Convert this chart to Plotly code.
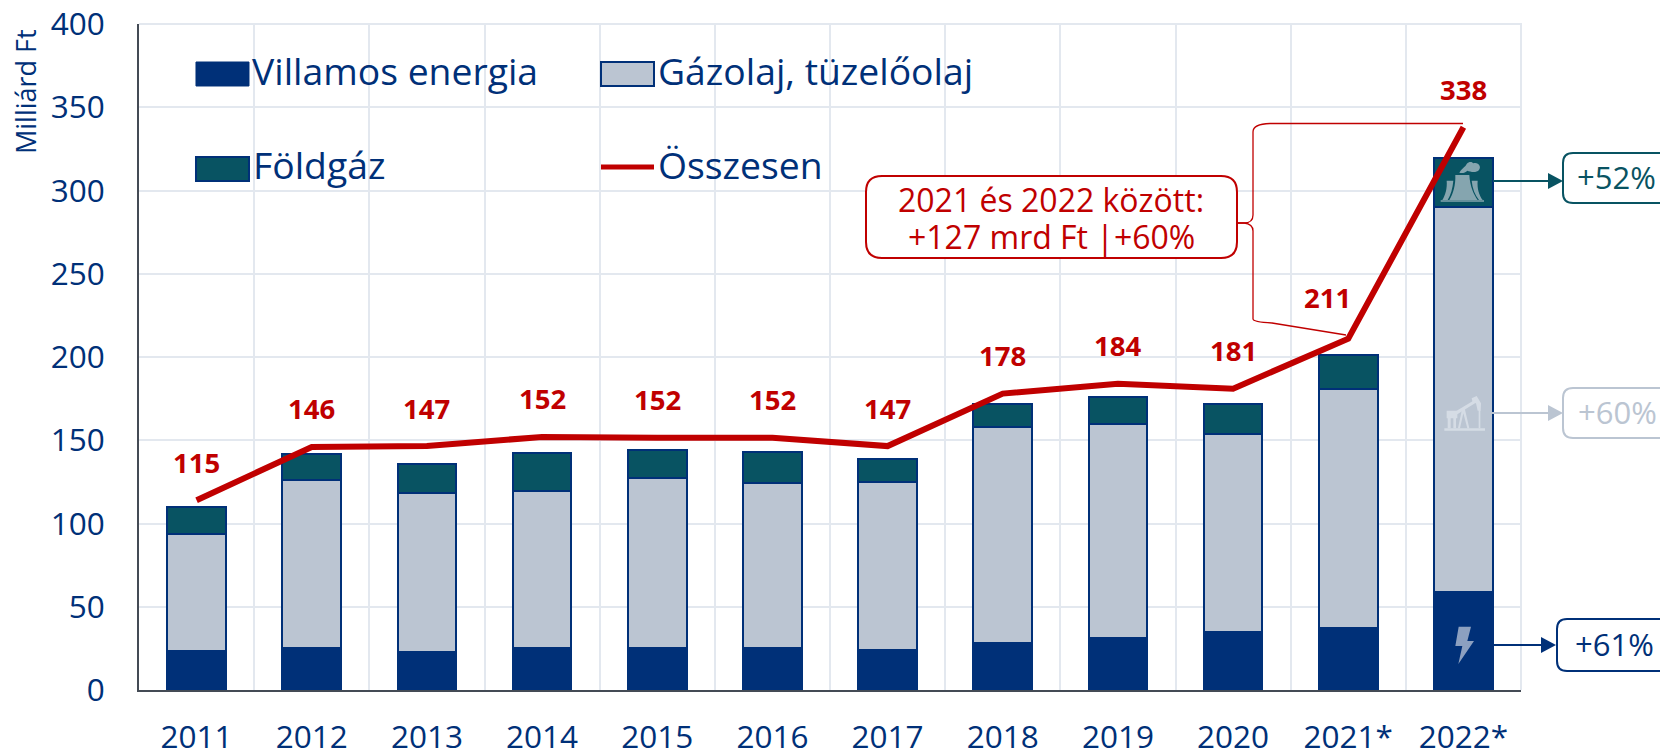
import plotly.graph_objects as go

years = ["2011","2012","2013","2014","2015","2016","2017","2018","2019","2020","2021*","2022*"]
villamos = [23.4,25,22.7,25.5,25.5,25,24,28,31,35,37,59]
gazolaj = [70.1,101,95.8,94,102,99.5,101,130,129,119,144,231]
foldgaz = [16.5,15.5,17.2,23,16.5,18.5,14,13.5,16,17.5,20,29.5]
osszesen = [114,146,146.5,152,151.5,151.5,146.5,178,184,181,211,338]
total_labels = ["115","146","147","152","152","152","147","178","184","181","211","338"]

NAVY = "#003078"
OIL = "#BBC5D2"
TEAL = "#085362"
RED = "#C00000"
GRID = "#E3E8EF"
FONT = "Open Sans"

L, R, T, B = 139, 1521, 24, 690
def px(x): return (x - L) / (R - L)
def py(y): return (B - y) / (B - T)
def P(cmds):
    out = []
    for c in cmds:
        if isinstance(c, str):
            out.append(c)
        else:
            out.append(f"{px(c[0]):.5f},{py(c[1]):.5f}")
    return " ".join(out)

def rbox(x0, y0, x1, y1, r=10):
    return P(["M",(x0+r,y0),"L",(x1-r,y0),"Q",(x1,y0),(x1,y0+r),"L",(x1,y1-r),"Q",(x1,y1),(x1-r,y1),
              "L",(x0+r,y1),"Q",(x0,y1),(x0,y1-r),"L",(x0,y0+r),"Q",(x0,y0),(x0+r,y0),"Z"])

fig = go.Figure()
for name, vals, col in [("Villamos energia", villamos, NAVY), ("Gázolaj, tüzelőolaj", gazolaj, OIL), ("Földgáz", foldgaz, TEAL)]:
    fig.add_bar(x=years, y=vals, name=name, marker=dict(color=col, line=dict(color=NAVY, width=2)), showlegend=False)
fig.add_scatter(x=years, y=osszesen, mode="lines", name="Összesen", line=dict(color=RED, width=6), showlegend=False, cliponaxis=False)

shapes, ann = [], []
def shape(path, fill=None, line=None, w=2, layer="above"):
    shapes.append(dict(type="path", xref="paper", yref="paper", path=path, fillcolor=fill or "rgba(0,0,0,0)",
                       line=dict(color=line or "rgba(0,0,0,0)", width=w if line else 0), layer=layer))
def text(x, y, s, size=30, color=NAVY, xanchor="left", bold=False, angle=0):
    ann.append(dict(xref="paper", yref="paper", x=px(x), y=py(y), text=f"<b>{s}</b>" if bold else s, showarrow=False,
                    xanchor=xanchor, yanchor="middle", textangle=angle, font=dict(family=FONT, size=size, color=color),
                    borderpad=0, borderwidth=0))

# outer grid lines the axes do not draw
shape(P(["M",(L,T),"L",(R,T),"L",(R,B)]), None, GRID, 2, "below")

# data labels (category index on x)
for i, (yr, v, lab) in enumerate(zip(years, osszesen, total_labels)):
    ann.append(dict(xref="x", yref="y", x=i, y=v, text=f"<b>{lab}</b>", showarrow=False, yanchor="middle", xanchor="center",
                    yshift=41 if yr == "2021*" else 38, xshift=-21 if yr == "2021*" else 0,
                    font=dict(family=FONT, size=27.5, color=RED)))

# legend
shape(P(["M",(196,62),"L",(249,62),"L",(249,86),"L",(196,86),"Z"]), NAVY, NAVY, 1)
shape(P(["M",(196,157),"L",(249,157),"L",(249,181),"L",(196,181),"Z"]), TEAL, NAVY, 2)
shape(P(["M",(601,62),"L",(654,62),"L",(654,86),"L",(601,86),"Z"]), OIL, NAVY, 2)
shape(P(["M",(601,167),"L",(654,167)]), None, RED, 5)
text(252, 70, "Villamos energia", 37.3)
text(253, 165, "Földgáz", 37.3)
text(658, 70, "Gázolaj, tüzelőolaj", 37.3)
text(658, 165, "Összesen", 37.3)

# y title
text(25, 92, "Milliárd Ft", 27, angle=-90, xanchor="center")

# red bracket + callout
shape(P(["M",(1237,223),"L",(1244,223),"Q",(1253,223),(1253,215),"L",(1253,132),"Q",(1253,124),(1270,123.5),"L",(1463,123.5)]), None, RED, 1.3)
shape(P(["M",(1237,223),"L",(1244,223),"Q",(1253,224),(1253,231),"L",(1253,319),"Q",(1253,322),(1272,323),"L",(1346,335)]), None, RED, 1.3)
shape(rbox(866,176,1237,258,16), "#FFFFFF", RED, 2)
text(1051, 199, "2021 és 2022 között:", 32, RED, "center")
text(1051, 236, "+127 mrd Ft |+60%", 32, RED, "center")

# right callouts
for color, lx0, tip, y, bx0, by0, by1, tx, s in [
    (TEAL, 1493, 1563, 181, 1563, 153, 203, 1577, "+52%"),
    (OIL, 1492, 1563, 413, 1563, 388, 438, 1578, "+60%"),
    (NAVY, 1493, 1556, 645, 1557, 619, 671, 1575, "+61%"),
]:
    shape(P(["M",(lx0,y),"L",(tip-14,y)]), None, color, 2)
    shape(P(["M",(tip-15,y-8),"L",(tip,y),"L",(tip-15,y+8),"Z"]), color)
    shape(rbox(bx0,by0,1680,by1,10), "#FFFFFF", color, 2)
    text(tx, (by0+by1)/2-1, s, 31, color)

# icons
def Z(ox, oy, cmds):
    return P([c if isinstance(c, str) else (ox + c[0]/3, oy + c[1]/3) for c in cmds])
T_ICON = "#85A5AF"
Ox, Oy = 1180, 60
shape(Z(Ox,Oy,["M",(826,345),"L",(868,345),"C",(870,380),(882,405),(893,420),"L",(808,420),"C",(820,400),(827,375),(826,345),"Z"]), T_ICON)
shape(Z(Ox,Oy,["M",(800,362),"L",(820,362),"C",(818,385),(812,405),(803,420),"L",(787,420),"C",(796,405),(802,385),(800,362),"Z"]), T_ICON)
shape(Z(Ox,Oy,["M",(875,362),"L",(893,362),"C",(891,385),(897,405),(908,420),"L",(897,420),"C",(885,405),(877,385),(875,362),"Z"]), T_ICON)
shape(Z(Ox,Oy,["M",(782,421),"L",(912,421),"L",(912,425),"L",(782,425),"Z"]), T_ICON)
shape(Z(Ox,Oy,["M",(838,338),"C",(845,325),(855,322),(860,312),"C",(868,302),(878,306),(880,310),"C",(895,305),(905,320),(897,330),"C",(888,340),(870,335),(862,332),"C",(855,340),(845,340),(838,338),"Z"]), T_ICON)

P_ICON = "#D5DCE5"
Ox, Oy = 1380, 360
shape(Z(Ox,Oy,["M",(193,205),"L",(315,205),"L",(315,212),"L",(193,212),"Z"]), P_ICON)
shape(Z(Ox,Oy,["M",(200,152),"L",(232,152),"L",(232,175),"L",(228,175),"L",(228,205),"L",(220,205),"L",(220,175),"L",(212,175),"L",(212,205),"L",(203,205),"L",(203,175),"L",(200,175),"Z"]), P_ICON)
shape(Z(Ox,Oy,["M",(225,155),"L",(280,122),"L",(285,130),"L",(232,163),"Z"]), P_ICON)
shape(Z(Ox,Oy,["M",(275,115),"L",(290,108),"L",(303,130),"L",(302,152),"L",(293,152),"L",(288,130),"L",(278,128),"Z"]), P_ICON)
shape(Z(Ox,Oy,["M",(296,150),"L",(301,150),"L",(301,205),"L",(296,205),"Z"]), P_ICON)
shape(Z(Ox,Oy,["M",(246,148),"L",(254,145),"L",(268,205),"L",(262,205),"L",(250,160),"L",(240,205),"L",(234,205),"Z"]), P_ICON)

B_ICON = "#8CA0C0"
shape(Z(Ox,Oy,["M",(236,800),"L",(273,800),"L",(262,843),"L",(282,843),"L",(235,912),"L",(247,858),"L",(226,858),"Z"]), B_ICON)

fig.update_layout(
    width=1660, height=751, barmode="stack", bargap=0.49,
    margin=dict(l=L, r=1660-R, t=T, b=751-B, pad=0, autoexpand=False),
    plot_bgcolor="#FFFFFF", paper_bgcolor="#FFFFFF", showlegend=False,
    font=dict(family=FONT, size=30, color=NAVY),
    shapes=shapes, annotations=ann,
    xaxis=dict(type="category", categoryorder="array", categoryarray=years, range=[-0.5, 11.5], tickson="boundaries", showgrid=True, gridcolor=GRID, gridwidth=2,
               showline=True, linecolor="#444B55", linewidth=2, ticks="", ticklabelstandoff=18, tickangle=0,
               tickfont=dict(family=FONT, size=31.5, color=NAVY)),
    yaxis=dict(range=[0,400], dtick=50, showgrid=True, gridcolor=GRID, gridwidth=2, zeroline=False,
               showline=True, linecolor="#444B55", linewidth=2, ticks="", ticklabelstandoff=26,
               tickfont=dict(family=FONT, size=31.5, color=NAVY)),
)
fig.write_html("out.html", config=dict(displayModeBar=False), post_script="document.body.style.margin='0';document.body.style.overflow='hidden';")
